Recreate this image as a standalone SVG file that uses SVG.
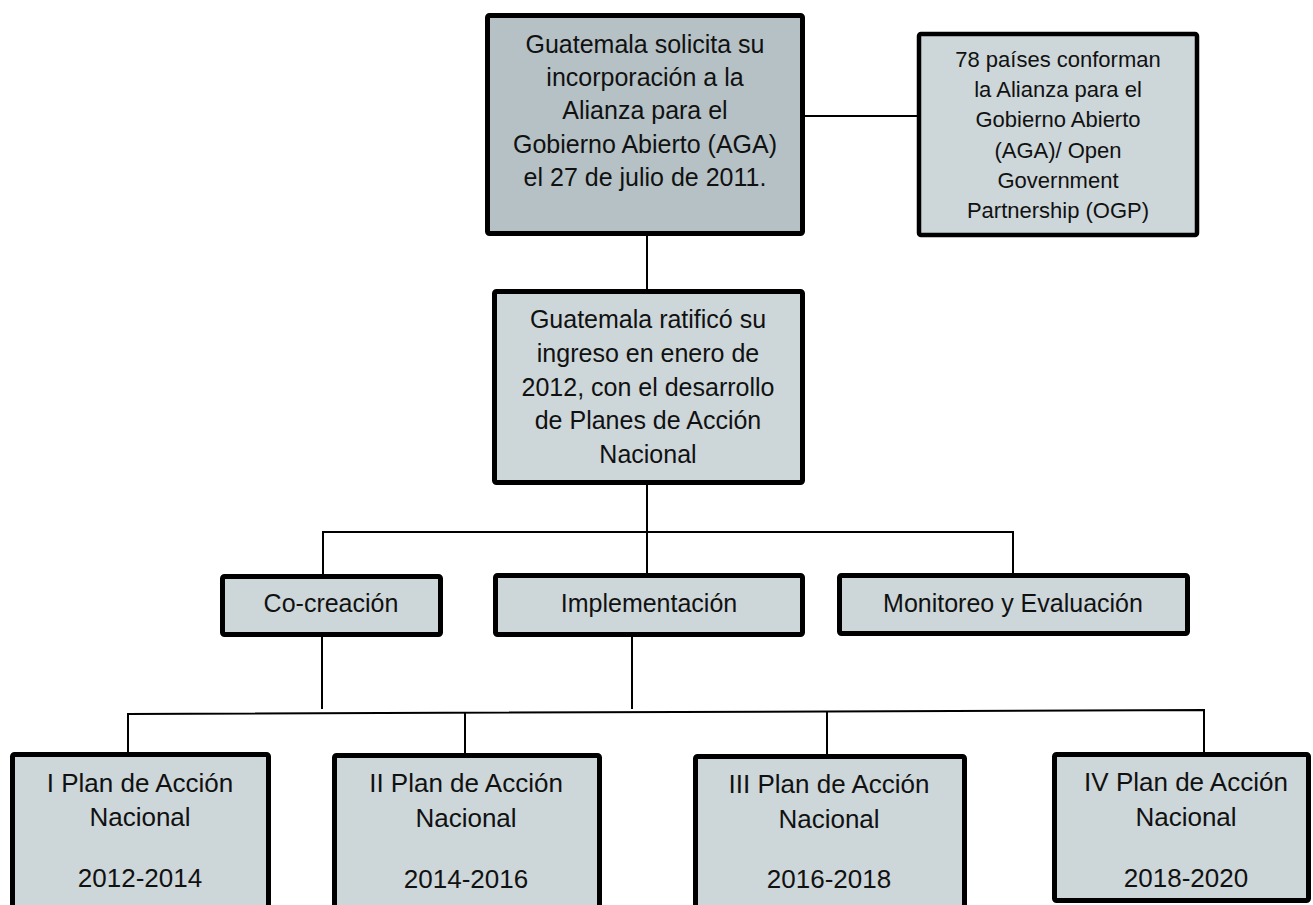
<svg xmlns="http://www.w3.org/2000/svg" width="1313" height="905" viewBox="0 0 1313 905">
<style>
.box{fill:#cdd6d9;stroke:#000;stroke-width:5;}
.dark{fill:#b5c1c5;}
.t{font-family:"Liberation Sans",Arial,sans-serif;font-size:25px;fill:#111;text-anchor:middle;}
.s{font-size:22px;}
.b{font-size:26px;}
.c{stroke:#000;stroke-width:2;fill:none;}
</style>
<rect width="1313" height="905" fill="#fff"/>
<g id="connectors">
<line class="c" x1="805" y1="116" x2="917" y2="116"/>
<line class="c" x1="647" y1="236" x2="647" y2="289"/>
<line class="c" x1="647" y1="485" x2="647" y2="574"/>
<polyline class="c" points="323,574 323,532 1013,532 1013,573"/>
<line class="c" x1="322" y1="637" x2="322" y2="709"/>
<line class="c" x1="632" y1="637" x2="632" y2="709"/>
<polyline class="c" points="128,752 128,714 1204,710 1204,752"/>
<line class="c" x1="465" y1="713" x2="465" y2="753"/>
<line class="c" x1="827" y1="712" x2="827" y2="754"/>
</g>
<g id="n-guatemala-solicita">
<rect class="box dark" x="487.5" y="15.5" width="315" height="218" rx="2"/>
<text class="t" x="645" y="53">Guatemala solicita su</text>
<text class="t" x="645" y="86">incorporación a la</text>
<text class="t" x="645" y="119">Alianza para el</text>
<text class="t" x="645" y="153">Gobierno Abierto (AGA)</text>
<text class="t" x="645" y="186">el 27 de julio de 2011.</text>
</g>
<g id="n-78-paises">
<rect class="box" x="919" y="34" width="278" height="201" rx="2" style="stroke-width:4.5"/>
<text class="t s" x="1058" y="67">78 países conforman</text>
<text class="t s" x="1058" y="97">la Alianza para el</text>
<text class="t s" x="1058" y="127">Gobierno Abierto</text>
<text class="t s" x="1058" y="158">(AGA)/ Open</text>
<text class="t s" x="1058" y="188">Government</text>
<text class="t s" x="1058" y="218">Partnership (OGP)</text>
</g>
<g id="n-ratifico">
<rect class="box" x="494.5" y="291.5" width="308" height="191" rx="2"/>
<text class="t" x="648" y="328">Guatemala ratificó su</text>
<text class="t" x="648" y="362">ingreso en enero de</text>
<text class="t" x="648" y="396">2012, con el desarrollo</text>
<text class="t" x="648" y="429">de Planes de Acción</text>
<text class="t" x="648" y="463">Nacional</text>
</g>
<g id="n-cocreacion">
<rect class="box" x="222.5" y="576.5" width="218" height="58" rx="2"/>
<text class="t" x="331" y="612">Co-creación</text>
</g>
<g id="n-implementacion">
<rect class="box" x="495.5" y="575.5" width="307" height="59" rx="2"/>
<text class="t" x="649" y="612">Implementación</text>
</g>
<g id="n-monitoreo">
<rect class="box" x="839.5" y="575.5" width="348" height="58" rx="2"/>
<text class="t" x="1013" y="612">Monitoreo y Evaluación</text>
</g>
<g id="n-plan-1">
<rect class="box" x="12.5" y="754.5" width="256" height="200" rx="2"/>
<text class="t b" x="140" y="792">I Plan de Acción</text>
<text class="t b" x="140" y="826">Nacional</text>
<text class="t b" x="140" y="887">2012-2014</text>
</g>
<g id="n-plan-2">
<rect class="box" x="334.5" y="755.5" width="265" height="200" rx="2"/>
<text class="t b" x="466" y="792">II Plan de Acción</text>
<text class="t b" x="466" y="827">Nacional</text>
<text class="t b" x="466" y="888">2014-2016</text>
</g>
<g id="n-plan-3">
<rect class="box" x="695.5" y="756.5" width="269" height="200" rx="2"/>
<text class="t b" x="829" y="793">III Plan de Acción</text>
<text class="t b" x="829" y="828">Nacional</text>
<text class="t b" x="829" y="888">2016-2018</text>
</g>
<g id="n-plan-4">
<rect class="box" x="1054.5" y="754.5" width="254" height="146" rx="2"/>
<text class="t b" x="1186" y="791">IV Plan de Acción</text>
<text class="t b" x="1186" y="826">Nacional</text>
<text class="t b" x="1186" y="887">2018-2020</text>
</g>
</svg>
